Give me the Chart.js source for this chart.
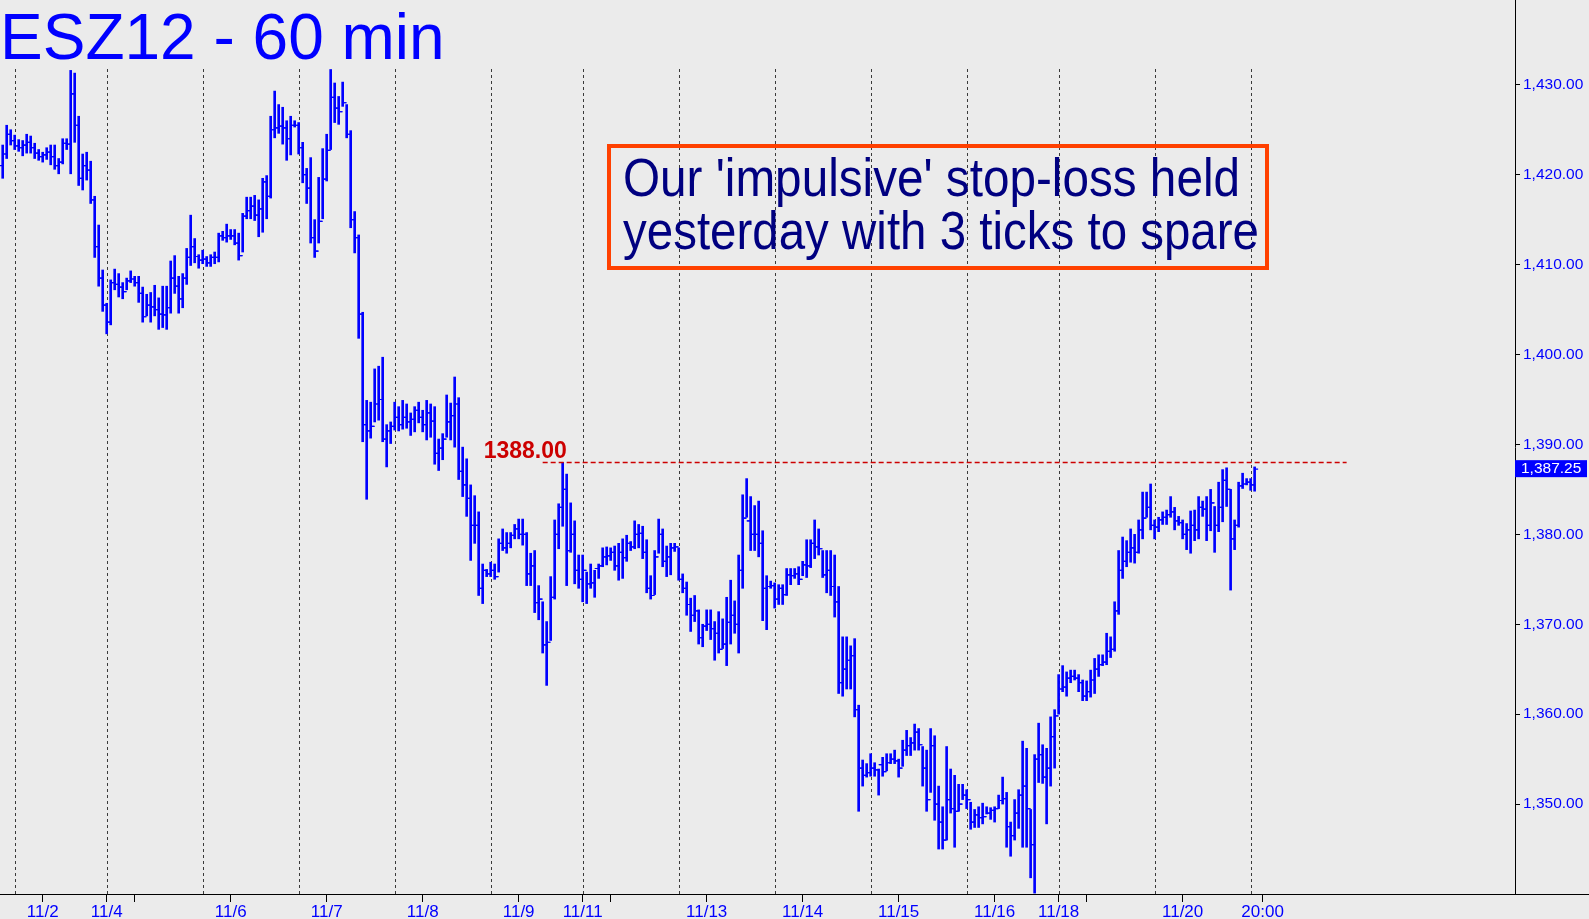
<!DOCTYPE html>
<html>
<head>
<meta charset="utf-8">
<script src="https://cdn.jsdelivr.net/npm/chart.js@4.4.0/dist/chart.umd.min.js"></script>
<style>
  html, body { margin: 0; padding: 0; background: #ebebeb; }
  #wrap { width: 1589px; height: 919px; }
</style>
</head>
<body>
<div id="wrap"><canvas id="esChart"></canvas></div>
<script>
// ESZ12 hourly bars, one entry per bar (index = bar number)
const highs = [
  1423.3,1425.5,1425.0,1424.4,1423.9,1423.8,1424.5,1424.3,1423.5,1422.8,
  1422.5,1423.0,1423.3,1423.3,1421.8,1424.0,1424.0,1431.6,1431.3,1426.5,
  1422.3,1422.5,1421.5,1417.6,1414.4,1409.4,1405.7,1408.3,1409.5,1409.0,
  1408.0,1408.5,1409.3,1408.7,1408.7,1407.5,1406.7,1406.9,1407.7,1406.3,
  1407.6,1407.6,1410.4,1411.0,1408.7,1409.0,1411.8,1415.5,1412.9,1411.1,
  1411.6,1410.9,1411.1,1411.4,1413.5,1413.7,1414.5,1413.9,1413.9,1413.5,
  1415.7,1417.5,1417.5,1417.7,1417.2,1419.6,1419.9,1426.5,1429.3,1427.8,
  1427.5,1426.0,1426.5,1426.0,1425.8,1423.6,1420.7,1421.9,1415.0,1419.7,
  1422.9,1424.5,1431.7,1430.2,1428.7,1430.3,1427.8,1424.9,1415.9,1413.3,
  1404.7,1394.9,1394.7,1398.4,1398.7,1399.7,1392.2,1392.5,1394.7,1394.2,
  1394.9,1394.5,1393.5,1394.2,1394.7,1393.8,1394.9,1394.5,1394.2,1390.6,
  1391.2,1395.5,1394.6,1397.5,1395.2,1389.7,1388.4,1385.5,1384.3,1382.5,
  1376.7,1376.1,1376.9,1376.7,1379.5,1380.6,1380.2,1380.2,1381.1,1381.7,
  1381.7,1380.2,1377.9,1378.2,1374.3,1372.5,1370.3,1375.3,1381.6,1383.4,
  1388.0,1386.7,1383.5,1381.5,1377.7,1377.7,1375.8,1376.7,1376.0,1376.7,
  1378.5,1378.6,1378.5,1378.7,1379.0,1379.5,1379.9,1379.2,1381.5,1381.1,
  1380.9,1379.4,1375.4,1378.2,1381.7,1380.6,1378.7,1379.0,1379.0,1378.5,
  1375.6,1374.7,1372.9,1373.2,1371.6,1370.0,1371.6,1371.6,1370.3,1371.4,
  1370.6,1373.0,1374.9,1372.6,1377.7,1384.4,1386.2,1384.2,1383.2,1383.7,
  1380.4,1375.4,1374.8,1374.6,1374.4,1374.4,1376.2,1376.2,1376.2,1376.4,
  1377.0,1379.4,1379.4,1381.6,1380.6,1378.2,1378.2,1378.2,1377.7,1374.2,
  1368.6,1368.6,1367.6,1368.4,1361.0,1354.9,1354.5,1355.6,1354.6,1353.9,
  1355.2,1355.6,1355.6,1356.0,1355.0,1357.1,1358.2,1357.4,1358.9,1358.4,
  1356.4,1356.0,1358.4,1357.6,1352.0,1349.7,1356.4,1353.9,1353.2,1352.2,
  1352.2,1351.6,1350.2,1349.4,1349.7,1350.1,1349.7,1349.6,1349.7,1351.0,
  1353.0,1351.3,1348.0,1350.5,1351.6,1357.0,1356.2,1349.4,1355.5,1359.0,
  1356.6,1356.2,1359.7,1360.5,1364.4,1365.4,1364.7,1364.9,1364.9,1364.4,
  1363.8,1363.7,1364.9,1366.2,1366.6,1366.6,1369.0,1368.6,1372.5,1378.2,
  1379.7,1379.3,1380.6,1380.0,1381.6,1384.7,1384.7,1385.6,1381.6,1381.9,
  1382.5,1382.7,1384.2,1383.0,1382.0,1381.6,1381.2,1382.6,1382.7,1384.2,
  1383.7,1384.2,1385.0,1383.1,1385.8,1387.2,1387.4,1385.0,1381.6,1385.8,
  1386.8,1386.2,1386.2,1387.5
];
const lows = [
  1419.6,1421.8,1423.3,1422.8,1422.6,1422.1,1422.4,1422.4,1421.8,1421.6,
  1421.4,1421.7,1421.1,1420.6,1420.1,1421.2,1422.8,1420.1,1423.6,1418.8,
  1418.3,1419.4,1416.8,1410.8,1407.6,1404.8,1402.3,1403.3,1407.2,1406.4,
  1406.2,1407.2,1408.0,1407.6,1405.8,1403.6,1404.3,1403.6,1404.3,1402.8,
  1403.0,1402.8,1404.6,1406.8,1404.6,1405.2,1407.8,1409.9,1410.2,1409.6,
  1410.1,1409.8,1409.8,1410.1,1410.3,1412.7,1412.5,1412.8,1412.2,1410.5,
  1411.4,1415.1,1415.1,1414.9,1413.1,1413.6,1415.1,1417.4,1424.1,1424.6,
  1423.4,1421.6,1422.2,1425.3,1422.3,1419.1,1416.8,1412.4,1410.8,1412.4,
  1415.1,1419.3,1422.8,1425.8,1425.6,1427.6,1424.1,1414.1,1411.3,1401.8,
  1390.3,1383.9,1390.7,1392.5,1392.7,1390.3,1387.5,1390.1,1391.6,1391.5,
  1391.7,1391.8,1391.0,1391.4,1392.4,1391.4,1390.5,1390.8,1387.8,1387.1,
  1388.3,1390.8,1390.5,1389.7,1386.1,1384.2,1382.0,1377.1,1379.0,1373.2,
  1372.3,1375.3,1375.3,1375.0,1375.8,1378.2,1377.9,1378.5,1379.5,1379.5,
  1378.8,1374.3,1374.3,1371.3,1370.5,1366.8,1363.2,1368.2,1372.8,1378.4,
  1380.9,1374.3,1378.0,1374.5,1374.0,1372.5,1372.3,1374.0,1373.0,1375.1,
  1376.4,1376.6,1377.1,1376.0,1374.9,1375.1,1377.0,1378.2,1378.4,1378.5,
  1377.3,1373.5,1372.8,1373.3,1377.9,1376.4,1375.3,1375.5,1378.1,1374.9,
  1373.5,1371.0,1369.2,1370.3,1367.8,1367.5,1369.3,1368.3,1366.0,1366.8,
  1367.3,1365.4,1367.8,1369.0,1366.8,1374.0,1381.9,1378.2,1378.2,1377.5,
  1370.4,1369.4,1374.0,1371.8,1372.2,1372.2,1373.2,1374.4,1375.1,1374.4,
  1375.4,1375.2,1376.3,1377.3,1377.7,1375.2,1373.5,1373.2,1370.8,1362.3,
  1362.0,1362.8,1362.8,1359.7,1349.2,1352.0,1353.0,1353.1,1353.1,1351.0,
  1353.1,1353.7,1354.5,1354.5,1353.0,1354.2,1355.4,1355.4,1356.0,1356.0,
  1352.0,1349.2,1351.3,1348.2,1345.0,1345.0,1346.0,1349.0,1345.2,1349.2,
  1350.5,1349.5,1347.2,1347.4,1347.4,1347.8,1348.9,1348.3,1348.0,1349.5,
  1350.0,1345.2,1344.2,1346.0,1347.3,1345.2,1345.2,1341.8,1340.1,1352.4,
  1352.3,1347.8,1352.0,1354.0,1360.0,1362.5,1362.0,1363.5,1363.8,1362.5,
  1361.5,1361.5,1361.9,1362.3,1364.2,1365.4,1365.5,1366.3,1367.0,1371.1,
  1375.1,1376.4,1376.9,1376.8,1377.9,1379.5,1381.9,1380.5,1379.5,1380.3,
  1381.1,1381.1,1381.9,1380.5,1381.0,1379.5,1378.3,1377.9,1379.3,1379.5,
  1382.0,1379.3,1380.4,1378.0,1380.3,1381.4,1383.1,1373.8,1378.3,1380.8,
  1385.1,1385.5,1384.9,1384.8
];
const closes = [
  1422.3,1424.5,1423.8,1423.2,1423.0,1423.3,1423.6,1423.0,1422.4,1422.0,
  1422.2,1422.5,1422.0,1421.0,1421.4,1423.5,1423.4,1429.0,1425.5,1419.6,
  1421.0,1420.5,1417.2,1412.0,1408.5,1405.5,1403.6,1408.0,1407.8,1407.5,
  1407.0,1408.2,1408.4,1408.0,1406.8,1404.2,1405.5,1405.3,1405.0,1404.5,
  1404.4,1405.2,1408.5,1407.6,1406.2,1408.5,1410.8,1412.0,1410.9,1410.5,
  1410.6,1410.2,1410.8,1410.8,1413.2,1413.0,1413.2,1413.2,1412.4,1411.0,
  1415.4,1416.0,1416.5,1415.5,1416.2,1419.2,1417.6,1425.0,1425.2,1425.4,
  1425.2,1424.0,1425.5,1425.5,1423.0,1420.0,1418.5,1413.0,1411.5,1414.8,
  1419.5,1422.7,1428.6,1427.4,1427.0,1428.0,1424.5,1415.0,1413.0,1404.5,
  1392.2,1391.5,1392.0,1394.5,1395.0,1390.6,1391.5,1392.0,1393.0,1392.2,
  1393.0,1392.5,1392.8,1393.8,1393.0,1392.2,1393.5,1392.6,1389.0,1389.6,
  1390.6,1392.5,1393.2,1394.5,1387.0,1385.5,1384.0,1381.0,1381.0,1374.0,
  1376.0,1375.6,1376.0,1375.3,1379.0,1378.5,1379.0,1379.9,1380.6,1380.0,
  1380.0,1375.6,1376.5,1372.4,1372.8,1367.7,1368.0,1373.0,1380.0,1383.0,
  1385.0,1378.2,1380.0,1376.0,1375.0,1376.0,1374.5,1374.6,1376.2,1376.5,
  1377.5,1377.6,1378.0,1376.5,1378.0,1377.4,1379.0,1378.6,1380.0,1380.1,
  1378.0,1374.0,1373.2,1377.5,1380.0,1377.0,1377.5,1378.5,1378.6,1375.0,
  1374.0,1372.2,1371.0,1371.5,1368.5,1369.8,1370.0,1369.5,1369.0,1367.2,
  1367.8,1370.2,1371.0,1370.0,1376.0,1381.8,1381.5,1380.0,1380.0,1379.0,
  1374.0,1374.2,1374.3,1372.8,1374.0,1373.3,1375.5,1375.4,1375.6,1375.0,
  1376.6,1376.5,1379.0,1378.6,1378.4,1375.5,1376.0,1374.2,1372.5,1363.5,
  1365.0,1366.0,1366.5,1360.5,1354.0,1353.2,1353.5,1354.0,1353.8,1354.4,
  1353.6,1354.6,1355.0,1354.8,1354.0,1356.0,1356.5,1356.8,1358.0,1356.6,
  1354.0,1350.5,1356.5,1350.0,1348.0,1346.0,1350.5,1349.5,1349.2,1350.0,
  1351.0,1350.5,1348.0,1348.8,1348.5,1348.6,1349.0,1349.3,1349.5,1350.4,
  1350.6,1347.5,1346.5,1349.0,1351.0,1352.0,1349.5,1345.5,1355.0,1355.5,
  1353.0,1354.0,1357.5,1359.8,1362.8,1363.0,1364.0,1364.2,1364.0,1363.5,
  1362.0,1362.5,1363.8,1365.0,1365.5,1365.8,1367.0,1367.2,1371.5,1376.0,
  1377.0,1378.0,1378.5,1378.0,1380.5,1381.8,1383.0,1381.0,1380.8,1381.6,
  1381.9,1382.2,1382.5,1381.5,1381.3,1380.0,1380.5,1381.0,1380.5,1383.0,
  1382.8,1381.0,1383.5,1381.0,1383.0,1386.0,1385.0,1379.5,1381.0,1385.4,
  1385.6,1385.8,1385.5,1387.25
];
const firstOpen = 1421.0;

// first bar of each session (dashed separators)
const sessionStarts = [3, 26, 50, 74, 98, 122, 145, 169, 193, 217, 241, 264, 288, 312];
// date labels on the time axis
const dateTicks = [10, 26, 57, 81, 105, 129, 145, 176, 200, 224, 248, 264, 295, 315];
const dateLabels = ['11/2', '11/4', '11/6', '11/7', '11/8', '11/9', '11/11', '11/13', '11/14', '11/15', '11/16', '11/18', '11/20', '20:00'];
const minorTicks = [33, 152, 271];
const priceTicks = [1350, 1360, 1370, 1380, 1390, 1400, 1410, 1420, 1430];

const stopLevel = 1388.00;
const stopFrom = 135;
const stopTo = 336;
const lastPrice = 1387.25;

const title = 'ESZ12 - 60 min';
const note = ["Our 'impulsive' stop-loss held", 'yesterday with 3 ticks to spare'];

const fmt = v => v.toLocaleString('en-US', { minimumFractionDigits: 2, maximumFractionDigits: 2 });

// background + session separators
const backdrop = {
  id: 'backdrop',
  beforeDraw(chart) {
    const ctx = chart.ctx;
    ctx.save();
    ctx.fillStyle = '#ebebeb';
    ctx.fillRect(0, 0, chart.width, chart.height);
    ctx.restore();
  },
  beforeDatasetsDraw(chart) {
    const { ctx, chartArea, scales } = chart;
    ctx.save();
    ctx.strokeStyle = '#3a3a3a';
    ctx.lineWidth = 1;
    ctx.setLineDash([3, 3]);
    sessionStarts.forEach(i => {
      const x = Math.round(scales.x.getPixelForValue(i)) + 0.5;
      ctx.beginPath();
      ctx.moveTo(x, 69);
      ctx.lineTo(x, chartArea.bottom);
      ctx.stroke();
    });
    ctx.restore();
  }
};

// open / close ticks on each bar
const ohlcTicks = {
  id: 'ohlcTicks',
  afterDatasetsDraw(chart) {
    const { ctx, scales } = chart;
    ctx.save();
    ctx.strokeStyle = '#0000ff';
    ctx.lineWidth = 1.2;
    closes.forEach((c, i) => {
      const x = scales.x.getPixelForValue(i);
      const o = i === 0 ? firstOpen : closes[i - 1];
      const yo = scales.y.getPixelForValue(o);
      const yc = scales.y.getPixelForValue(c);
      ctx.beginPath();
      ctx.moveTo(x - 3.5, yo); ctx.lineTo(x, yo);
      ctx.moveTo(x, yc); ctx.lineTo(x + 3.5, yc);
      ctx.stroke();
    });
    ctx.restore();
  }
};

// title, stop line, comment box, last price tag
const overlay = {
  id: 'overlay',
  afterDraw(chart) {
    const { ctx, chartArea, scales } = chart;
    ctx.save();

    // stop level
    const ys = scales.y.getPixelForValue(stopLevel);
    const xs0 = scales.x.getPixelForValue(stopFrom);
    const xs1 = scales.x.getPixelForValue(stopTo);
    ctx.strokeStyle = '#cc0000';
    ctx.lineWidth = 1.5;
    ctx.setLineDash([5, 3]);
    ctx.beginPath();
    ctx.moveTo(xs0, ys); ctx.lineTo(xs1, ys);
    ctx.stroke();
    ctx.setLineDash([]);
    ctx.fillStyle = '#cc0000';
    ctx.font = 'bold 23px "Liberation Sans", Arial, sans-serif';
    ctx.textBaseline = 'alphabetic';
    ctx.fillText(stopLevel.toFixed(2), xs0 - 59, ys - 4);

    // title
    ctx.fillStyle = '#0000ff';
    ctx.font = '64px "Liberation Sans", Arial, sans-serif';
    ctx.fillText(title, 0, 59);

    // comment box
    ctx.strokeStyle = '#ff4000';
    ctx.lineWidth = 4;
    ctx.strokeRect(609, 146, 658, 122);
    ctx.fillStyle = '#000080';
    ctx.font = '54px "Liberation Sans", Arial, sans-serif';
    const lines = [[note[0], 623, 196, 617], [note[1], 623, 249, 636]];
    lines.forEach(([t, x, y, w]) => {
      const m = ctx.measureText(t).width;
      ctx.save();
      ctx.translate(x, y);
      ctx.scale(w / m, 1);
      ctx.fillText(t, 0, 0);
      ctx.restore();
    });

    // bottom line under the price axis too
    ctx.strokeStyle = '#000';
    ctx.lineWidth = 1;
    ctx.beginPath();
    ctx.moveTo(chartArea.right, Math.round(chartArea.bottom) + 0.5);
    ctx.lineTo(chart.width, Math.round(chartArea.bottom) + 0.5);
    ctx.stroke();

    // last price tag
    const yl = scales.y.getPixelForValue(lastPrice);
    ctx.fillStyle = '#0000ff';
    ctx.fillRect(chartArea.right, yl - 9, 72, 17);
    ctx.fillStyle = '#ffffff';
    ctx.font = '15.5px "Liberation Sans", Arial, sans-serif';
    ctx.textBaseline = 'middle';
    ctx.fillText(fmt(lastPrice), chartArea.right + 6, yl);

    ctx.restore();
  }
};

new Chart(document.getElementById('esChart'), {
  type: 'bar',
  data: {
    datasets: [{
      data: highs.map((h, i) => ({ x: i, y: [lows[i], h] })),
      backgroundColor: '#0000ff',
      borderWidth: 0,
      barThickness: 2
    }]
  },
  options: {
    responsive: true,
    maintainAspectRatio: false,
    animation: false,
    layout: { padding: 0 },
    plugins: { legend: { display: false }, tooltip: { enabled: false } },
    scales: {
      x: {
        type: 'linear',
        offset: false,
        min: -0.675,
        max: 378.1,
        afterBuildTicks: s => {
          s.ticks = dateTicks.concat(minorTicks).sort((a, b) => a - b).map(v => ({ value: v }));
        },
        afterFit: s => {
          s.height = 25;
          s.paddingLeft = 0;
          s.paddingRight = 0;
        },
        ticks: {
          autoSkip: false,
          maxRotation: 0,
          padding: 0,
          color: '#0000ff',
          font: { family: '"Liberation Sans", Arial', size: 17 },
          callback: v => {
            const k = dateTicks.indexOf(v);
            return k < 0 ? '' : dateLabels[k];
          }
        },
        grid: { offset: false, drawOnChartArea: false, drawTicks: true, tickLength: 8, color: '#000' },
        border: { color: '#000', width: 1 }
      },
      y: {
        position: 'right',
        min: 1340,
        max: 1439.43,
        afterBuildTicks: s => { s.ticks = priceTicks.map(v => ({ value: v })); },
        afterFit: s => {
          s.width = 74;
          s.paddingTop = 0;
          s.paddingBottom = 0;
        },
        ticks: {
          color: '#0000ff',
          padding: 3,
          font: { family: '"Liberation Sans", Arial', size: 15.5 },
          callback: v => fmt(v)
        },
        grid: { drawOnChartArea: false, drawTicks: true, tickLength: 5, color: '#000' },
        border: { color: '#000', width: 1 }
      }
    }
  },
  plugins: [backdrop, ohlcTicks, overlay]
});
</script>
</body>
</html>
